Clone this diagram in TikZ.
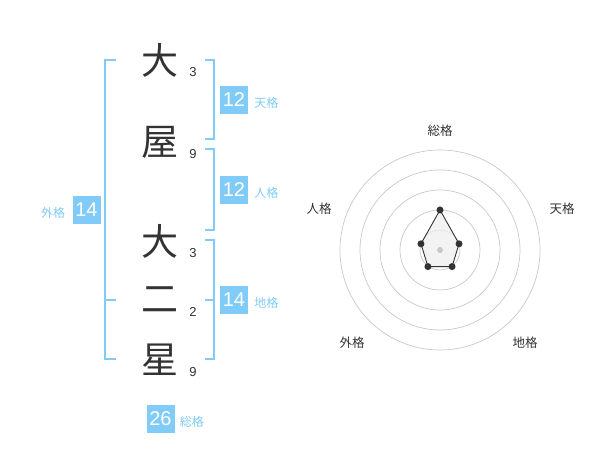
\documentclass[tikz,border=0pt]{standalone}
\usepackage{fontspec}
\setmainfont{Liberation Sans}
\newfontfamily\jpfont{Noto Sans CJK JP}
\usetikzlibrary{calc, positioning}
\definecolor{kaku}{HTML}{80CBF8}
\definecolor{ink}{HTML}{333333}
\definecolor{ring}{HTML}{C8C8C8}
\definecolor{area}{HTML}{EEEEEE}

\begin{document}
\begin{tikzpicture}[x=1pt, y=-1pt, every node/.style={inner sep=0pt},
  kanji/.style={font=\jpfont\fontsize{37}{37}\selectfont, text=ink},
  strokes/.style={font=\fontsize{13}{13}\selectfont, text=ink},
  badge/.style={fill=kaku, text=white, minimum width=28pt, minimum height=28pt, font=\fontsize{20}{20}\selectfont},
  kakulbl/.style={font=\jpfont\fontsize{12}{12}\selectfont, text=kaku},
  bracket/.style={draw=kaku, line width=1.6pt},
  axislbl/.style={font=\jpfont\fontsize{12.5}{12.5}\selectfont, text=ink}]
  \useasboundingbox (0,0) rectangle (600,470);

  % Name column
  \foreach \y/\ch/\n/\name in {60/大/3/c1, 142/屋/9/c2, 241/大/3/c3, 300/二/2/c4, 360/星/9/c5}{
    \node[kanji] (\name) at (160,\y) {\ch};
    \node[strokes] (\name-n) at (193,\y+12) {\n};
  }

  % Brackets
  \draw[bracket] (205,60) -- (214,60) -- (214,139) -- (205,139);
  \draw[bracket] (205,149) -- (214,149) -- (214,230) -- (205,230);
  \draw[bracket] (205,240) -- (214,240) -- (214,359) -- (205,359);
  \draw[bracket] (205,300) -- (214,300);
  \draw[bracket] (116,60) -- (105,60) -- (105,359) -- (116,359);
  \draw[bracket] (105,300) -- (116,300);

  % Scores
  \foreach \y/\v/\lbl/\name in {100/12/天格/ten, 190/12/人格/jin, 300/14/地格/chi}{
    \node[badge] (\name-box) at (234,\y) {\v};
    \node[kakulbl, right=6pt of \name-box, yshift=-3pt] (\name-lbl) {\lbl};
  }
  \node[badge] (gai-box) at (86.5,210) {14};
  \node[kakulbl, left=7pt of gai-box, yshift=-3pt] (gai-lbl) {外格};
  \node[badge] (sou-box) at (160.5,419) {26};
  \node[kakulbl, right=5pt of sou-box, yshift=-3pt] (sou-lbl) {総格};

  % Radar chart
  \coordinate (ctr) at (440,250);
  \foreach \r in {20,40,...,100}
    \draw[ring, line width=0.7pt] (ctr) circle (\r pt);
  \foreach \a/\r/\name in {-90/40/sou, -18/20/ten, 54/20.5/chi, 126/20.5/gai, 198/20/jin}
    \coordinate (\name-pt) at ($(ctr)+(\a:\r)$);
  \filldraw[draw=ink, fill=area, fill opacity=0.7, line width=0.9pt]
    (sou-pt) -- (ten-pt) -- (chi-pt) -- (gai-pt) -- (jin-pt) -- cycle;
  \fill[ring] (ctr) circle (3pt);
  \foreach \name in {sou, ten, chi, gai, jin}
    \fill[ink] (\name-pt) circle (3.5pt);
  \node[axislbl] (sou-ax) at (440,130.5) {総格};
  \node[axislbl] (ten-ax) at (562,208.5) {天格};
  \node[axislbl] (chi-ax) at (525,342.5) {地格};
  \node[axislbl] (gai-ax) at (352,342.5) {外格};
  \node[axislbl] (jin-ax) at (319,208.5) {人格};
\end{tikzpicture}
\end{document}
